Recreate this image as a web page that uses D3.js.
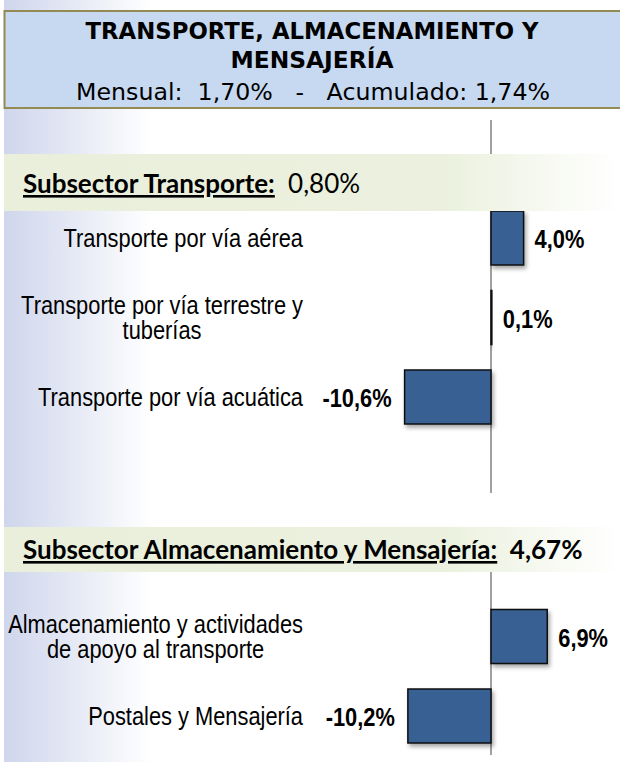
<!DOCTYPE html>
<html>
<head>
<meta charset="utf-8">
<script src="https://cdn.jsdelivr.net/npm/d3@7"></script>
<style>
  body { margin: 0; background: #fff; }
  svg { display: block; }
</style>
</head>
<body>
<div id="chart"></div>
<script>
// Header texts
const titleLines = ["TRANSPORTE, ALMACENAMIENTO Y", "MENSAJERÍA"];
const mensual = "1,70%";
const acumulado = "1,74%";

// Subsector Transporte
const transporteTitle = "Subsector Transporte:";
const transporteTotal = "0,80%";
const transporteLabels = ["Transporte por vía aérea", "Transporte por vía terrestre y\ntuberías", "Transporte por vía acuática"];
const transporteValues = [4.0, 0.1, -10.6];

// Subsector Almacenamiento y Mensajería
const almacenTitle = "Subsector Almacenamiento y Mensajería:";
const almacenTotal = "4,67%";
const almacenLabels = ["Almacenamiento y actividades\nde apoyo al transporte", "Postales y Mensajería"];
const almacenValues = [6.9, -10.2];

const width = 620, height = 762;
// no Arial Narrow here: Liberation Sans squeezed horizontally instead
const labelFont = "'Liberation Sans', Arial, sans-serif";
const narrow = 0.84;

const svg = d3.select("#chart").append("svg")
    .attr("width", width)
    .attr("height", height);

const defs = svg.append("defs");

// left blue fade
const bgGrad = defs.append("linearGradient").attr("id", "bgGrad");
bgGrad.append("stop").attr("offset", "0%").attr("stop-color", "#cfd6ec");
bgGrad.append("stop").attr("offset", "24%").attr("stop-color", "#ffffff");

// green band fade
const bandGrad = defs.append("linearGradient").attr("id", "bandGrad");
bandGrad.append("stop").attr("offset", "0%").attr("stop-color", "#e9efdb");
bandGrad.append("stop").attr("offset", "72%").attr("stop-color", "#ebf1de");
bandGrad.append("stop").attr("offset", "100%").attr("stop-color", "#ffffff");

const shadow = defs.append("filter").attr("id", "shadow")
    .attr("x", "-20%").attr("y", "-20%").attr("width", "150%").attr("height", "150%");
shadow.append("feDropShadow")
    .attr("dx", 2).attr("dy", 3).attr("stdDeviation", 2)
    .attr("flood-color", "#000").attr("flood-opacity", 0.35);

svg.append("rect")
    .attr("x", 4).attr("y", 0)
    .attr("width", width - 4).attr("height", height)
    .attr("fill", "url(#bgGrad)");

// Header box
svg.append("rect")
    .attr("x", 4.5).attr("y", 11)
    .attr("width", width).attr("height", 97)
    .attr("fill", "#c6d9f1")
    .attr("stroke", "#948a54")
    .attr("stroke-width", 2);

const header = svg.append("g")
    .attr("font-family", "'DejaVu Sans', Verdana, sans-serif")
    .attr("text-anchor", "middle")
    .attr("fill", "#000");

const titleWidths = [453, 163];
header.selectAll(".title")
    .data(titleLines)
    .enter()
    .append("text")
    .attr("class", "title")
    .attr("x", 312)
    .attr("y", (d, i) => 39 + i * 29)
    .attr("font-size", 23)
    .attr("font-weight", "bold")
    .attr("textLength", (d, i) => titleWidths[i])
    .attr("lengthAdjust", "spacingAndGlyphs")
    .text(d => d);

header.append("text")
    .attr("x", 313)
    .attr("y", 100)
    .attr("font-size", 23)
    .attr("textLength", 474)
    .attr("lengthAdjust", "spacingAndGlyphs")
    .style("white-space", "pre")
    .text("Mensual:  " + mensual + "   -   Acumulado: " + acumulado);

// Shared x scale (percent)
const x = d3.scaleLinear()
    .domain([-12, 12])
    .range([491 - 12 * 8.15, 491 + 12 * 8.15]);

const esLocale = d3.formatLocale({ decimal: ",", thousands: ".", grouping: [3], currency: ["", "%"], minus: "-" });
const fmt = v => esLocale.format(".1f")(v) + "%";

const barH = 54;

function narrowText(g, px, py, anchor, bold) {
    return g.append("text")
        .attr("transform", "translate(" + px + "," + py + ") scale(" + narrow + ",1)")
        .attr("text-anchor", anchor)
        .attr("font-family", labelFont)
        .attr("font-weight", bold ? "bold" : "normal")
        .attr("font-size", 26)
        .attr("fill", "#000");
}

function drawSection(labels, values, yRange, axisTop, axisBottom) {
    const y = d3.scalePoint()
        .domain(labels)
        .range(yRange);

    const g = svg.append("g");

    // zero axis
    g.append("line")
        .attr("x1", x(0)).attr("x2", x(0))
        .attr("y1", axisTop).attr("y2", axisBottom)
        .attr("stroke", "#808080")
        .attr("stroke-width", 1.5);

    const rows = labels.map((l, i) => ({ label: l, value: values[i] }));

    g.selectAll(".bar")
        .data(rows)
        .enter()
        .append("rect")
        .attr("class", "bar")
        .attr("x", d => x(Math.min(0, d.value)))
        .attr("y", d => y(d.label) - barH / 2)
        .attr("width", d => Math.abs(x(d.value) - x(0)))
        .attr("height", barH)
        .attr("fill", "#376092")
        .attr("stroke", "#111")
        .attr("stroke-width", 1.5)
        .attr("filter", "url(#shadow)");

    rows.forEach(d => {
        const pos = d.value >= 0;
        narrowText(g, pos ? x(d.value) + 11 : x(d.value) - 13, y(d.label) + 10, pos ? "start" : "end", true)
            .text(fmt(d.value));

        // category label: lines centered inside a block whose right edge is at 303
        const lines = d.label.split("\n");
        const lh = 26;
        const t = narrowText(g, 0, y(d.label) + 9 - (lines.length - 1) * lh / 2, "middle", false);
        const spans = t.selectAll("tspan")
            .data(lines)
            .enter()
            .append("tspan")
            .attr("y", (l, i) => i * lh)
            .text(l => l);
        let maxW = 0;
        spans.each(function () { maxW = Math.max(maxW, this.getComputedTextLength()); });
        spans.attr("x", (303 / narrow) - maxW / 2);
    });
}

// Subsector bands
function drawBand(y0, h, title, total, totalBold, baseline) {
    svg.append("rect")
        .attr("x", 4).attr("y", y0)
        .attr("width", width - 4).attr("height", h)
        .attr("fill", "url(#bandGrad)");
    const t = svg.append("text")
        .attr("x", 23)
        .attr("y", baseline)
        .attr("font-family", "Lato, 'Open Sans', sans-serif")
        .attr("font-size", 26)
        .attr("fill", "#000")
        .style("white-space", "pre");
    t.append("tspan")
        .attr("font-weight", "bold")
        .attr("text-decoration", "underline")
        .text(title);
    t.append("tspan")
        .attr("font-weight", totalBold ? "bold" : "normal")
        .text("  " + total);
}

drawSection(transporteLabels, transporteValues, [238, 397], 120, 493);
drawSection(almacenLabels, almacenValues, [636.5, 716], 560, 755);

drawBand(154, 57, transporteTitle, transporteTotal, false, 193);
drawBand(527, 45, almacenTitle, almacenTotal, true, 559);
</script>
</body>
</html>
